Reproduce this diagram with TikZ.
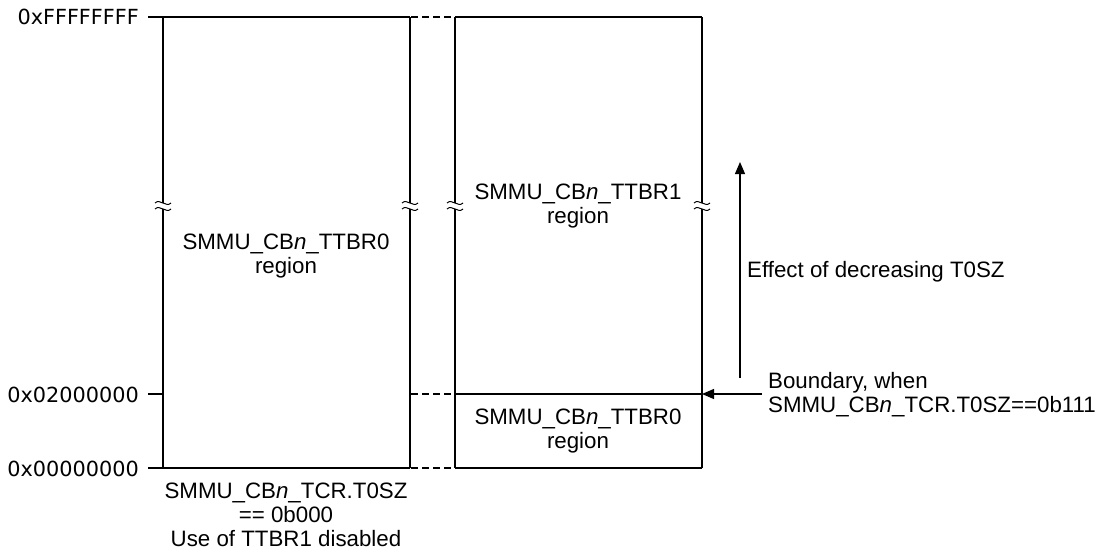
\documentclass[tikz,border=0pt]{standalone}
\usepackage{fontspec}
\setmainfont{Liberation Sans}
\newfontfamily\addrfont{DejaVu Sans}
\usetikzlibrary{arrows.meta}

\tikzset{
	lbl/.style={font=\fontsize{22.3}{24}\selectfont, align=center, inner sep=0pt},
	addr/.style={font=\addrfont\fontsize{20.8}{24}\selectfont, anchor=base east, inner sep=0pt},
	edge/.style={line width=1.2pt},
	gapline/.style={line width=1.2pt, dash pattern=on 7pt off 4pt},
	brk/.pic={
		\fill[white] (-9,-3) rectangle (9,3);
		\draw[line width=1pt] (-8,-3) .. controls (-3,-8) and (3,2) .. (8,-3);
		\draw[line width=1pt] (-8,3) .. controls (-3,-2) and (3,8) .. (8,3);
	}
}

\begin{document}
\begin{tikzpicture}[x=1pt, y=-1pt]
	\useasboundingbox (0,0) rectangle (1110,554);

	% address ticks and outlines of the two maps
	\draw[edge] (148,17) -- (410,17);
	\draw[edge] (148,394) -- (163,394);
	\draw[edge] (148,468) -- (410,468);
	\draw[edge] (455,17) -- (702,17);
	\draw[edge] (455,394) -- (702,394);
	\draw[edge] (455,468) -- (702,468);
	\foreach \x in {163, 410, 455, 702} {
		\draw[edge] (\x,17) -- (\x,468);
	}
	% dashed joins between the maps
	\foreach \y in {17, 394, 468} {
		\draw[gapline] (411,\y) -- (455,\y);
	}
	% break marks on the vertical edges
	\foreach \x in {163, 410, 455, 702} {
		\pic at (\x,206) {brk};
	}

	% addresses
	\node[addr] (atop) at (139,24) {0xFFFFFFFF};
	\node[addr] (amid) at (139,402) {0x02000000};
	\node[addr] (abot) at (139,476) {0x00000000};

	% region labels
	\node[lbl] (lttbr0) at (286,256.5) {SMMU\_CB\textit{n}\_TTBR0\\region};
	\node[lbl] (rttbr1) at (578,206.5) {SMMU\_CB\textit{n}\_TTBR1\\region};
	\node[lbl] (rttbr0) at (578,431.5) {SMMU\_CB\textit{n}\_TTBR0\\region};
	\node[lbl] (cond) at (286,514.5) {SMMU\_CB\textit{n}\_TCR.T0SZ\\== 0b000\\Use of TTBR1 disabled};

	% boundary arrow
	\coordinate (bnd) at (702,394);
	\node[lbl, anchor=west, align=left] (bndtxt) at (768,395) {Boundary, when\\SMMU\_CB\textit{n}\_TCR.T0SZ==0b111};
	\draw[edge, -{Triangle[length=12pt, width=10pt]}] ([xshift=-6pt]bndtxt.west |- bnd) -- (bnd);

	% effect arrow
	\coordinate (efflo) at (740,378);
	\coordinate (effhi) at (740,162);
	\draw[edge, -{Triangle[length=12pt, width=10pt]}] (efflo) -- (effhi);
	\node[lbl, anchor=base west] (efftxt) at (747,277) {Effect of decreasing T0SZ};
\end{tikzpicture}
\end{document}
